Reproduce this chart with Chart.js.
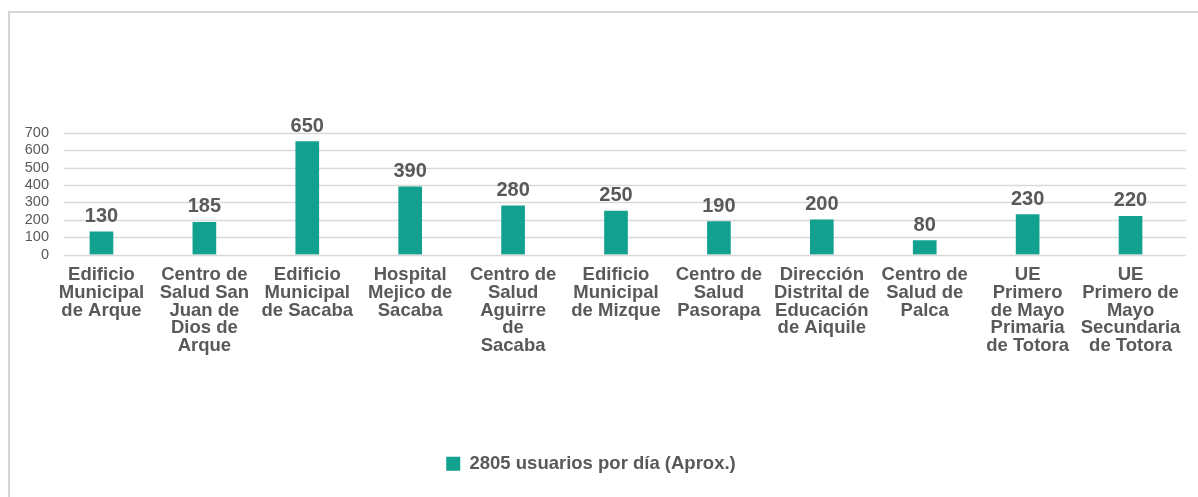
<!DOCTYPE html>
<html>
<head>
<meta charset="utf-8">
<script src="https://cdn.jsdelivr.net/npm/chart.js@4.4.1/dist/chart.umd.min.js"></script>
<style>
  html, body { margin: 0; padding: 0; background: #fff; }
  #frame {
    position: absolute; left: 8px; top: 11px; width: 1190px; height: 486px;
    border-top: 2px solid #d6d6d6; border-left: 2px solid #d6d6d6;
  }
  #wrap { position: absolute; left: 0; top: 0; width: 1198px; height: 497px; }
</style>
</head>
<body>
<div id="frame"></div>
<div id="wrap"><canvas id="usuariosChart" width="1198" height="497"></canvas></div>
<script>
// Categorias (lugares) y usuarios por dia
const lugares = [
    ["Edificio", "Municipal", "de Arque"],
    ["Centro de", "Salud San", "Juan de", "Dios de", "Arque"],
    ["Edificio", "Municipal", "de Sacaba"],
    ["Hospital", "Mejico de", "Sacaba"],
    ["Centro de", "Salud", "Aguirre", "de", "Sacaba"],
    ["Edificio", "Municipal", "de Mizque"],
    ["Centro de", "Salud", "Pasorapa"],
    ["Dirección", "Distrital de", "Educación", "de Aiquile"],
    ["Centro de", "Salud de", "Palca"],
    ["UE", "Primero", "de Mayo", "Primaria", "de Totora"],
    ["UE", "Primero de", "Mayo", "Secundaria", "de Totora"]
];
const usuarios = [130, 185, 650, 390, 280, 250, 190, 200, 80, 230, 220];
const etiquetaSerie = "2805 usuarios por día (Aprox.)";

const gris = "#595959";
const verde = "#12a08f";

// Lineas horizontales de la grilla (un poco desplazadas como en el original)
const gridPlugin = {
    id: "gridLines",
    beforeDatasetsDraw(chart) {
        const { ctx, chartArea, scales } = chart;
        ctx.save();
        ctx.strokeStyle = "#d9d9d9";
        ctx.lineWidth = 1.5;
        scales.y.ticks.forEach(t => {
            const y = Math.round(scales.y.getPixelForValue(t.value)) + 0.5;
            ctx.beginPath();
            ctx.moveTo(chartArea.left + 14, y);
            ctx.lineTo(chartArea.right + 4, y);
            ctx.stroke();
        });
        ctx.restore();
    }
};

// Etiquetas de valor encima de cada barra
const valorPlugin = {
    id: "valores",
    afterDatasetsDraw(chart) {
        const { ctx } = chart;
        const meta = chart.getDatasetMeta(0);
        ctx.save();
        ctx.font = "bold 20px 'Liberation Sans', Arial, sans-serif";
        ctx.fillStyle = gris;
        ctx.textAlign = "center";
        ctx.textBaseline = "alphabetic";
        meta.data.forEach((bar, i) => {
            ctx.fillText(chart.data.datasets[0].data[i], bar.x, bar.y - 10);
        });
        ctx.restore();
    }
};

const ctx = document.getElementById("usuariosChart").getContext("2d");
new Chart(ctx, {
    type: "bar",
    data: {
        labels: lugares,
        datasets: [{
            label: etiquetaSerie,
            data: usuarios,
            backgroundColor: verde,
            borderWidth: 0,
            barThickness: 23
        }]
    },
    options: {
        responsive: false,
        animation: false,
        layout: {
            padding: { top: 133, right: 16, bottom: 14, left: 0 }
        },
        scales: {
            x: {
                grid: { display: false, drawTicks: false },
                border: { display: false },
                ticks: {
                    autoSkip: false,
                    maxRotation: 0,
                    minRotation: 0,
                    padding: 12,
                    color: gris,
                    font: { family: "'Liberation Sans', Arial, sans-serif", size: 18.5, weight: "bold", lineHeight: 0.95 }
                },
                afterFit(scale) { scale.height = 190; }
            },
            y: {
                min: 0,
                max: 700,
                grid: { display: false, drawTicks: false },
                border: { display: false },
                ticks: {
                    autoSkip: false,
                    stepSize: 100,
                    padding: 1,
                    color: gris,
                    font: { family: "'Liberation Sans', Arial, sans-serif", size: 14.5 }
                },
                afterFit(scale) { scale.width = 50; }
            }
        },
        plugins: {
            legend: {
                display: true,
                position: "bottom",
                labels: {
                    color: gris,
                    boxWidth: 14,
                    boxHeight: 14,
                    padding: 10,
                    font: { family: "'Liberation Sans', Arial, sans-serif", size: 18.5, weight: "bold" }
                }
            },
            tooltip: { enabled: false }
        }
    },
    plugins: [gridPlugin, valorPlugin]
});
</script>
</body>
</html>
